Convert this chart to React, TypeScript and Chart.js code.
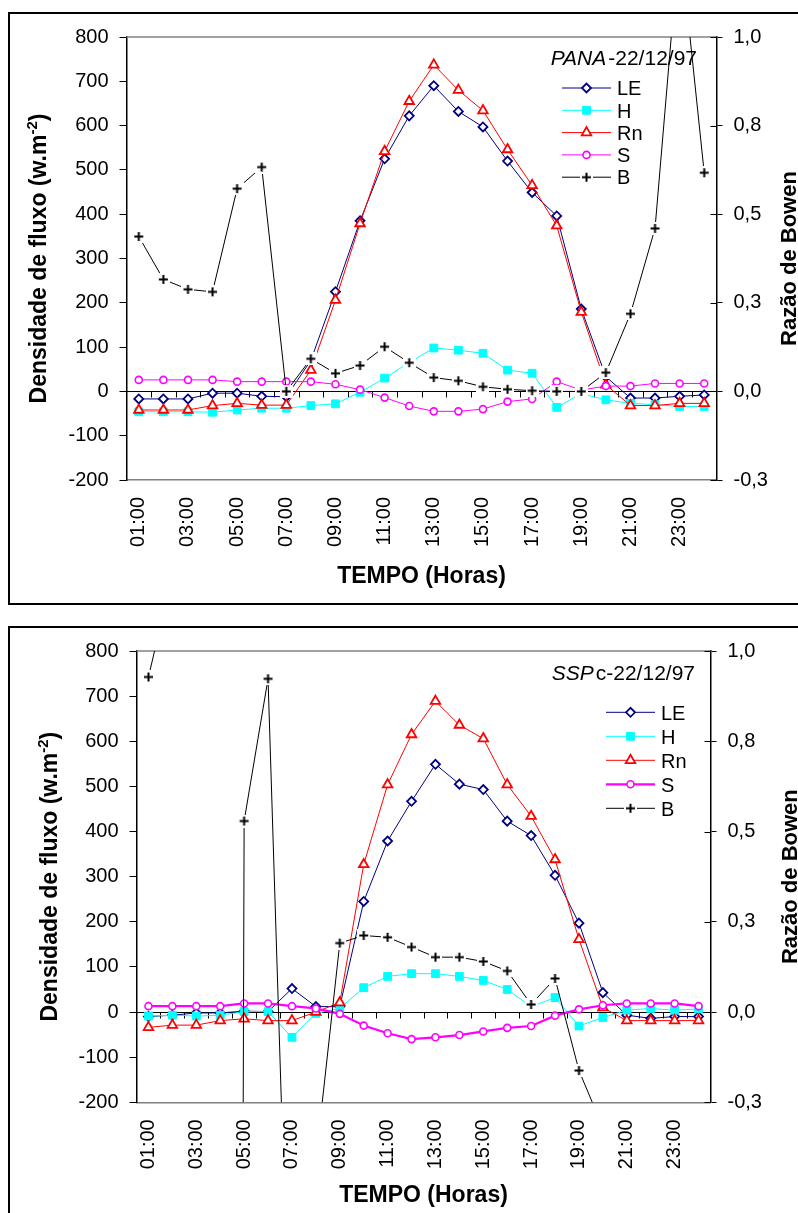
import React, { useEffect, useRef } from 'react';
import { Chart, registerables } from 'chart.js';
import { drawPoint } from 'chart.js/helpers';

Chart.register(...registerables);

const FONT = "'Liberation Sans', Arial, Helvetica, sans-serif";
Chart.defaults.font.family = FONT;
Chart.defaults.color = '#000';

const hours = [
  '01:00', '02:00', '03:00', '04:00', '05:00', '06:00', '07:00', '08:00',
  '09:00', '10:00', '11:00', '12:00', '13:00', '14:00', '15:00', '16:00',
  '17:00', '18:00', '19:00', '20:00', '21:00', '22:00', '23:00', '24:00',
];

const seriesNames = ['LE', 'H', 'Rn', 'S', 'B'];

// PANA - 22/12/97
const panaLE = [-17, -17, -17, -4, -4, -11, -12, 70, 225, 385, 525, 622, 690, 632, 597, 520, 449, 396, 186, 33, -15, -15, -11, -8];
const panaH = [-46, -46, -46, -47, -42, -38, -38, -32, -28, -2, 30, 65, 98, 93, 86, 48, 41, -36, -5, -19, -27, -30, -34, -34];
const panaRn = [-42, -42, -42, -32, -27, -31, -31, 48, 206, 379, 542, 655, 737, 680, 634, 546, 465, 374, 179, 15, -32, -32, -27, -27];
const panaS = [26, 26, 26, 26, 22, 22, 22, 22, 16, 4, -14, -33, -45, -45, -40, -23, -17, 22, 3, 12, 12, 18, 18, 18];
const panaB = [0.437, 0.316, 0.288, 0.281, 0.572, 0.633, 0.0, 0.092, 0.051, 0.073, 0.126, 0.081, 0.039, 0.03, 0.013, 0.006, 0.002, 0.0, 0.0, 0.053, 0.219, 0.46, 1.28, 0.617];

// SSPc - 22/12/97
const sspLE = [-10, -7, -2, -2, 2, 1, 52, 12, 12, 245, 379, 467, 549, 505, 493, 423, 391, 303, 197, 43, -7, -14, -10, -10];
const sspH = [-9, -7, -9, -7, 1, 1, -56, -3, 8, 54, 79, 85, 85, 79, 70, 50, 12, 32, -31, -12, 4, 8, 4, 7];
const sspRn = [-34, -29, -29, -19, -15, -19, -19, 0, 21, 327, 504, 615, 689, 636, 606, 504, 434, 338, 161, 10, -19, -19, -19, -19];
const sspS = [13, 13, 13, 13, 19, 19, 13, 8, -4, -30, -47, -60, -56, -51, -43, -35, -31, -8, 6, 15, 19, 19, 19, 13];
const sspB = [0.928, 1.21, null, -20, 0.529, 0.923, -1.18, -0.41, 0.191, 0.212, 0.207, 0.18, 0.152, 0.152, 0.14, 0.114, 0.021, 0.093, -0.162, -0.32, null, null, null, null];

const fluxMin = -200;
const fluxMax = 800;
const fluxStep = 100;
const bowenMin = -0.25;
const bowenMax = 1.0;
const bowenStep = 0.25;

type Panel = {
  left: number; top: number; w: number; h: number;
  padTop: number; yW: number; y1W: number; xH: number;
  leftTitleX: number; rightTitleX: number; xTitleY: number;
  annItalic: string; annRest: string; annX: number; annY: number;
  legX1: number; legX2: number; legM: number; legT: number; legY0: number; legDy: number;
  sWidth: number;
  data: (number | null)[][];
};

const pana: Panel = {
  left: 10, top: 14, w: 788, h: 589,
  padTop: 19, yW: 116.5, y1W: 81.5, xH: 123,
  leftTitleX: 36, rightTitleX: 786, xTitleY: 569,
  annItalic: 'PANA', annRest: '-22/12/97', annX: 687, annY: 51,
  legX1: 552, legX2: 601, legM: 576.5, legT: 607, legY0: 74, legDy: 22.3,
  sWidth: 1,
  data: [panaLE, panaH, panaRn, panaS, panaB],
};

const ssp: Panel = {
  left: 10, top: 628, w: 788, h: 585,
  padTop: 20.3, yW: 126.5, y1W: 87.5, xH: 110.7,
  leftTitleX: 46.5, rightTitleX: 787, xTitleY: 573.5,
  annItalic: 'SSP', annRest: 'c-22/12/97', annX: 685, annY: 52,
  legX1: 596, legX2: 645, legM: 620.5, legT: 651, legY0: 84.3, legDy: 24,
  sWidth: 2.2,
  data: [sspLE, sspH, sspRn, sspS, sspB],
};

function makePlus(): HTMLCanvasElement {
  const c = document.createElement('canvas');
  c.width = 13;
  c.height = 13;
  const g = c.getContext('2d')!;
  g.fillStyle = '#ffffff';
  g.fillRect(0, 0, 13, 13);
  g.strokeStyle = '#000000';
  g.lineWidth = 2;
  g.beginPath();
  g.moveTo(2, 6.5);
  g.lineTo(11, 6.5);
  g.moveTo(6.5, 2);
  g.lineTo(6.5, 11);
  g.stroke();
  return c;
}

function drawRotated(ctx: CanvasRenderingContext2D, cx: number, cy: number, parts: { t: string; font: string; dy: number }[]) {
  ctx.save();
  ctx.translate(cx, cy);
  ctx.rotate(-Math.PI / 2);
  ctx.textAlign = 'left';
  ctx.textBaseline = 'alphabetic';
  ctx.fillStyle = '#000';
  let total = 0;
  for (const p of parts) { ctx.font = p.font; total += ctx.measureText(p.t).width; }
  let x = -total / 2;
  for (const p of parts) {
    ctx.font = p.font;
    ctx.fillText(p.t, x, p.dy);
    x += ctx.measureText(p.t).width;
  }
  ctx.restore();
}

function makeDecor(p: Panel) {
  return {
    id: 'decor',
    beforeDatasetsDraw(chart: any) {
      const { ctx, chartArea: a, scales } = chart;
      const xs = scales.x, ys = scales.y, y1 = scales.y1;
      ctx.save();
      ctx.strokeStyle = '#808080';
      ctx.lineWidth = 1.5;
      ctx.beginPath();
      ctx.moveTo(a.left, a.top);
      ctx.lineTo(a.right, a.top);
      ctx.stroke();
      const y0 = Math.round(ys.getPixelForValue(0)) + 0.5;
      const step = xs.getPixelForValue(1) - xs.getPixelForValue(0);
      ctx.strokeStyle = '#000';
      ctx.lineWidth = 1;
      ctx.beginPath();
      ctx.moveTo(a.left, y0);
      ctx.lineTo(a.right, y0);
      for (let i = 1; i < hours.length; i++) {
        const px = Math.round(xs.getPixelForValue(i) - step / 2) + 0.5;
        ctx.moveTo(px, y0);
        ctx.lineTo(px, y0 + 6);
      }
      ctx.stroke();
      ctx.beginPath();
      for (const t of y1.ticks) {
        const py = Math.round(y1.getPixelForValue(t.value)) + 0.5;
        ctx.moveTo(a.right - 6, py);
        ctx.lineTo(a.right, py);
      }
      ctx.stroke();
      ctx.restore();
    },
    afterDraw(chart: any) {
      const { ctx, chartArea: a } = chart;
      const cy = (a.top + a.bottom) / 2;
      const cx = (a.left + a.right) / 2;
      drawRotated(ctx, p.leftTitleX, cy, [
        { t: 'Densidade de fluxo (w.m', font: `bold 23px ${FONT}`, dy: 0 },
        { t: '-2', font: `bold 15px ${FONT}`, dy: -9 },
        { t: ')', font: `bold 23px ${FONT}`, dy: 0 },
      ]);
      drawRotated(ctx, p.rightTitleX, cy, [
        { t: 'Razão de Bowen', font: `bold 22px ${FONT}`, dy: 0 },
      ]);
      ctx.save();
      ctx.fillStyle = '#000';
      ctx.textBaseline = 'alphabetic';
      ctx.textAlign = 'center';
      ctx.font = `bold 23px ${FONT}`;
      ctx.fillText('TEMPO (Horas)', cx, p.xTitleY);
      // annotation
      ctx.textAlign = 'left';
      ctx.font = `italic 21px ${FONT}`;
      const w1 = ctx.measureText(p.annItalic).width;
      ctx.font = `21px ${FONT}`;
      const w2 = ctx.measureText(p.annRest).width;
      const sx = p.annX - w1 - w2 - 2;
      ctx.font = `italic 21px ${FONT}`;
      ctx.fillText(p.annItalic, sx, p.annY);
      ctx.font = `21px ${FONT}`;
      ctx.fillText(p.annRest, sx + w1 + 2, p.annY);
      // legend
      chart.data.datasets.forEach((d: any, i: number) => {
        const y = p.legY0 + i * p.legDy;
        ctx.save();
        ctx.strokeStyle = d.borderColor;
        ctx.lineWidth = d.borderWidth;
        ctx.beginPath();
        ctx.moveTo(p.legX1, y);
        ctx.lineTo(p.legX2, y);
        ctx.stroke();
        ctx.fillStyle = d.pointBackgroundColor;
        ctx.strokeStyle = d.pointBorderColor;
        ctx.lineWidth = d.pointBorderWidth;
        drawPoint(ctx, { pointStyle: d.pointStyle, radius: d.pointRadius, rotation: 0, borderWidth: d.pointBorderWidth } as any, p.legM, y);
        ctx.restore();
        ctx.fillStyle = '#000';
        ctx.font = `20px ${FONT}`;
        ctx.fillText(d.label, p.legT, y + 7.2);
      });
      ctx.restore();
    },
  };
}

function FluxChart({ panel }: { panel: Panel }) {
  const ref = useRef<HTMLCanvasElement>(null);
  useEffect(() => {
    const plus = makePlus();
    const [le, h, rn, s, b] = panel.data;
    const chart = new Chart(ref.current!, {
      type: 'line',
      data: {
        labels: hours,
        datasets: [
          { label: seriesNames[0], data: le, yAxisID: 'y', borderColor: '#000080', borderWidth: 1, pointStyle: 'rectRot', pointRadius: 4.5, pointBorderWidth: 1.8, pointBackgroundColor: '#ffffff', pointBorderColor: '#000080', order: 5 },
          { label: seriesNames[1], data: h, yAxisID: 'y', borderColor: '#00FFFF', borderWidth: 1, pointStyle: 'rect', pointRadius: 5.5, pointBorderWidth: 1, pointBackgroundColor: '#00FFFF', pointBorderColor: '#00FFFF', order: 4 },
          { label: seriesNames[2], data: rn, yAxisID: 'y', borderColor: '#FF0000', borderWidth: 1, pointStyle: 'triangle', pointRadius: 5.5, pointBorderWidth: 1.8, pointBackgroundColor: '#ffffff', pointBorderColor: '#FF0000', order: 3 },
          { label: seriesNames[3], data: s, yAxisID: 'y', borderColor: '#FF00FF', borderWidth: panel.sWidth, pointStyle: 'circle', pointRadius: 3.5, pointBorderWidth: 1.6, pointBackgroundColor: '#ffffff', pointBorderColor: '#FF00FF', order: 2 },
          { label: seriesNames[4], data: b, yAxisID: 'y1', borderColor: '#000000', borderWidth: 1, pointStyle: plus, pointRadius: 6, pointBorderWidth: 0, pointBackgroundColor: '#ffffff', pointBorderColor: '#000000', order: 1 },
        ] as any,
      },
      options: {
        responsive: false,
        animation: false,
        events: [],
        layout: { padding: { top: panel.padTop, left: 0, right: 0, bottom: 0 } },
        elements: { line: { tension: 0 } },
        plugins: { legend: { display: false }, tooltip: { enabled: false }, title: { display: false } },
        scales: {
          x: {
            type: 'category',
            offset: true,
            position: 'bottom',
            grid: { display: false, drawTicks: false },
            border: { display: true, color: '#808080', width: 1.5 },
            ticks: {
              autoSkip: false, maxRotation: 90, minRotation: 90, padding: 17,
              font: { size: 20, family: FONT }, color: '#000',
              callback: (_v: any, i: number) => (i % 2 === 0 ? hours[i] : ''),
            },
            afterFit: (sc: any) => { sc.height = panel.xH; },
          },
          y: {
            position: 'left',
            min: fluxMin, max: fluxMax,
            ticks: { stepSize: fluxStep, padding: 11, font: { size: 20, family: FONT }, color: '#000', callback: (v: any) => String(v) },
            grid: { drawOnChartArea: false, drawTicks: true, tickLength: 7, color: '#000', lineWidth: 1 },
            border: { display: true, color: '#000', width: 1.5 },
            afterFit: (sc: any) => { sc.width = panel.yW; },
          },
          y1: {
            position: 'right',
            min: bowenMin, max: bowenMax,
            ticks: { stepSize: bowenStep, padding: 11, font: { size: 20, family: FONT }, color: '#000', callback: (v: any) => Number(v).toFixed(1).replace('.', ',') },
            grid: { drawOnChartArea: false, drawTicks: true, tickLength: 6, color: '#000', lineWidth: 1 },
            border: { display: true, color: '#000', width: 1.5 },
            afterFit: (sc: any) => { sc.width = panel.y1W; },
          },
        },
      } as any,
      plugins: [makeDecor(panel)],
    });
    return () => chart.destroy();
  }, [panel]);
  return (
    <canvas
      ref={ref}
      width={panel.w}
      height={panel.h}
      style={{ position: 'absolute', left: panel.left, top: panel.top, width: panel.w, height: panel.h }}
    />
  );
}

export default function App() {
  return (
    <div style={{ position: 'absolute', left: 0, top: 0, width: 798, height: 1213, overflow: 'hidden', background: '#fff' }}>
      <div style={{ position: 'absolute', left: 8, top: 12, width: 800, height: 593, border: '2px solid #000', boxSizing: 'border-box' }} />
      <div style={{ position: 'absolute', left: 8, top: 626, width: 800, height: 620, border: '2px solid #000', boxSizing: 'border-box' }} />
      <FluxChart panel={pana} />
      <FluxChart panel={ssp} />
    </div>
  );
}
